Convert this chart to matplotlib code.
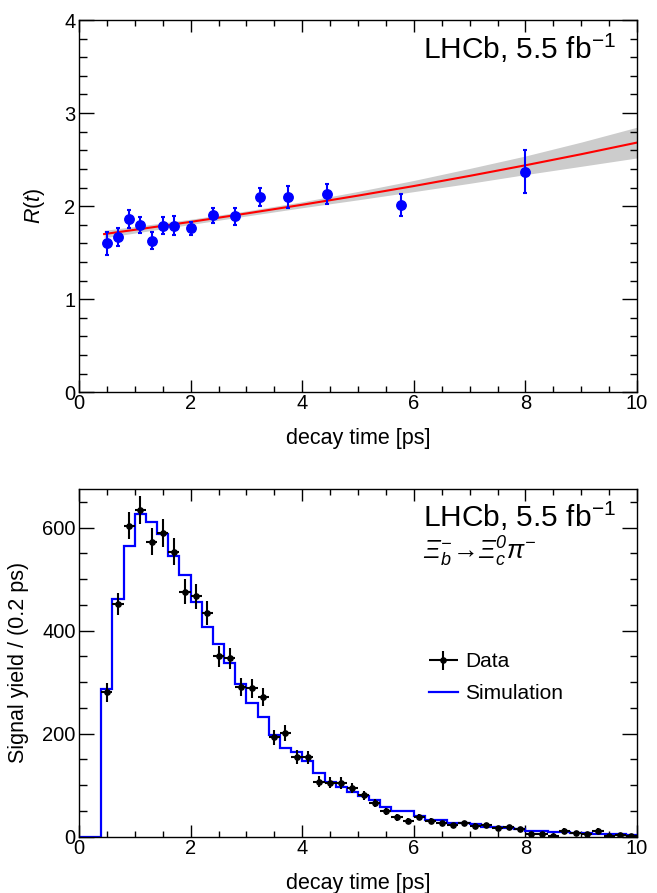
import numpy as np
import matplotlib
matplotlib.use("Agg")
import matplotlib.pyplot as plt
from matplotlib.ticker import MultipleLocator
from matplotlib.lines import Line2D
from matplotlib.container import ErrorbarContainer
from matplotlib.legend_handler import HandlerErrorbar

plt.rcParams['font.family'] = ['Liberation Sans', 'DejaVu Sans']
plt.rcParams['mathtext.fontset'] = 'custom'
plt.rcParams['mathtext.rm'] = 'Liberation Sans:italic'
plt.rcParams['mathtext.it'] = 'Liberation Sans:italic'
plt.rcParams['mathtext.sf'] = 'Liberation Sans'
plt.rcParams['mathtext.bf'] = 'Liberation Sans:bold'

# ---------------- top panel data: ratio R(t) ----------------
t_ratio = [0.5, 0.7, 0.9, 1.1, 1.3, 1.5, 1.7, 2.0, 2.4, 2.8, 3.25, 3.75, 4.45, 5.77, 8.0]
R_vals = [1.60, 1.67, 1.86, 1.80, 1.63, 1.79, 1.79, 1.76, 1.90, 1.89, 2.10, 2.10, 2.13, 2.015, 2.37]
R_errs = [0.12, 0.10, 0.095, 0.085, 0.09, 0.09, 0.10, 0.07, 0.085, 0.093, 0.10, 0.12, 0.11, 0.12, 0.23]

fit_t = [0.45, 1, 2, 3, 4, 5, 6, 7, 8, 9, 10]
fit_R = [1.70, 1.746, 1.831, 1.921, 2.015, 2.113, 2.216, 2.325, 2.439, 2.558, 2.683]
band_lo = [1.66, 1.711, 1.803, 1.894, 1.983, 2.068, 2.156, 2.245, 2.339, 2.428, 2.518]
band_hi = [1.74, 1.781, 1.859, 1.948, 2.047, 2.158, 2.276, 2.405, 2.539, 2.688, 2.848]

# ---------------- bottom panel data: yields ----------------
bin_edges = np.round(np.arange(0.0, 10.0001, 0.2), 2)
sim_yield = [0, 0, 286, 461, 564, 626, 611, 588, 544, 508,
             456, 408, 374, 337, 296, 260, 233, 197, 173, 165,
             147, 123, 106, 96, 87, 79, 71, 57, 49, 49,
             40, 33, 32, 27, 26, 25, 19, 18, 17, 15,
             12, 11, 10, 9, 8, 7, 6, 6, 5, 4]
t_data = np.round(np.arange(0.5, 10.0, 0.2), 2)
data_yield = [280, 452, 604, 634, 573, 589, 553, 476, 467, 434,
              350, 346, 291, 288, 271, 193, 201, 155, 154, 107,
              105, 104, 94, 80, 65, 49, 38, 30, 39, 30,
              26, 22, 26, 21, 22, 16, 19, 15, 5, 5,
              1, 12, 8, 5, 12, 2, 4, 2]
data_err = [19, 22, 27, 27, 27, 27, 26, 24, 24, 23,
            21, 20, 18, 18, 17, 15, 15, 13, 13, 11,
            11, 11, 10, 9, 8, 7, 7, 6, 6, 6,
            5, 5, 5, 5, 5, 4, 4, 4, 3, 3,
            3, 4, 3, 3, 4, 2, 2, 2]

W, H = 657, 893
fig = plt.figure(figsize=(W / 100, H / 100), dpi=100)

def px_axes(x0, x1, ytop, ybot):
    return fig.add_axes([x0 / W, 1 - ybot / H, (x1 - x0) / W, (ybot - ytop) / H])

ax1 = px_axes(79, 637, 20, 392.3)
ax2 = px_axes(79, 637, 489, 836.7)

# top panel
ax1.fill_between(fit_t, band_lo, band_hi, color='#cccccc', lw=0, zorder=1)
ax1.plot(fit_t, fit_R, color='#ff0000', lw=1.5, zorder=2)
ax1.errorbar(t_ratio, R_vals, yerr=R_errs, fmt='o', color='#0000ff', ms=6.8,
             elinewidth=1.5, capsize=1.3, capthick=1.5, zorder=3)
ax1.set_xlim(0, 10)
ax1.set_ylim(0, 4)
ax1.yaxis.set_major_locator(MultipleLocator(1))
ax1.yaxis.set_minor_locator(MultipleLocator(0.2))
ax1.set_xlabel('decay time [ps]', fontsize=15.5)
ax1.set_ylabel(r'$R\mathsf{(}t\mathsf{)}$', fontsize=15.5, va='center')
ax1.xaxis.set_label_coords(0.5, -0.095)
ax1.yaxis.set_label_coords(-0.0806, 0.5)
ax1.text(0.616, 0.8944, r'LHCb, 5.5 fb$^{\mathsf{-1}}$', transform=ax1.transAxes,
         ha='left', va='baseline', fontsize=21.5)

# bottom panel
ax2.stairs(sim_yield, bin_edges, color='#0000ff', lw=1.6, zorder=2)
eb = ax2.errorbar(t_data, data_yield, xerr=0.1, yerr=data_err, fmt='o', color='black',
                  ms=3.8, elinewidth=1.5, capsize=0, zorder=3)
ax2.set_xlim(0, 10)
ax2.set_ylim(0, 675)
ax2.yaxis.set_major_locator(MultipleLocator(200))
ax2.yaxis.set_minor_locator(MultipleLocator(50))
ax2.set_xlabel('decay time [ps]', fontsize=15.5)
ax2.set_ylabel('Signal yield / (0.2 ps)', fontsize=15.5, va='center')
ax2.xaxis.set_label_coords(0.5, -0.105)
ax2.yaxis.set_label_coords(-0.109, 0.5)
ax2.text(0.616, 0.89, r'LHCb, 5.5 fb$^{\mathsf{-1}}$', transform=ax2.transAxes,
         ha='left', va='baseline', fontsize=21.5)
ax2.text(0.616, 0.798, r'$\Xi_{b}^{-}\!\rightarrow\!\Xi_{c}^{0}\pi^{-}$', transform=ax2.transAxes,
         ha='left', va='baseline', fontsize=18.5)
sim_handle = Line2D([], [], color='#0000ff', lw=1.6)
ax2.legend([eb, sim_handle], ['Data', 'Simulation'], loc='upper left',
           bbox_to_anchor=(0.627, 0.53), frameon=False, fontsize=15,
           borderpad=0, borderaxespad=0, handlelength=1.4, handletextpad=0.35,
           labelspacing=0.62,
           handler_map={ErrorbarContainer: HandlerErrorbar(xerr_size=0.7, yerr_size=0.46)})

for ax in (ax1, ax2):
    ax.xaxis.set_major_locator(MultipleLocator(2))
    ax.xaxis.set_minor_locator(MultipleLocator(0.5))
    ax.tick_params(which='both', direction='in', top=True, right=True,
                   labelsize=14.5, width=1.0, color='black')
    ax.tick_params(axis='y', which='major', length=10.8, pad=2.5)
    ax.tick_params(axis='y', which='minor', length=5.4)
    ax.tick_params(axis='x', which='major', length=8.6, pad=1.5)
    ax.tick_params(axis='x', which='minor', length=4.3)
    for s in ax.spines.values():
        s.set_linewidth(1.0)

fig.savefig('out.png', dpi=100)
